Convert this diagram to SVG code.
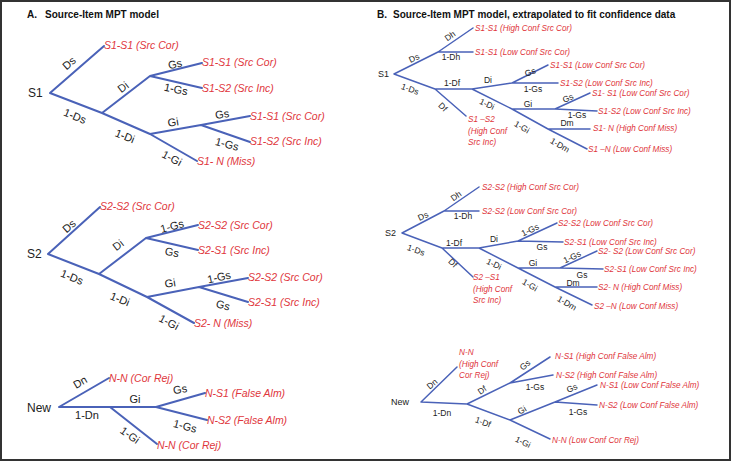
<svg xmlns="http://www.w3.org/2000/svg" width="731" height="461" viewBox="0 0 731 461">
<style>
.ln{stroke:#4a62b8;fill:none;stroke-width:2;stroke-linecap:round;stroke-linejoin:round}
.lb{stroke:#4a62b8;fill:none;stroke-width:1.5;stroke-linecap:round;stroke-linejoin:round}
text{font-family:"Liberation Sans",Arial,sans-serif;dominant-baseline:central}
.h{font-weight:bold;font-size:10px;fill:#111;dominant-baseline:auto}
.r{fill:#e0363c;font-style:italic;font-size:10.5px}
.rb{fill:#e0363c;font-style:italic;font-size:8.2px}
.k{fill:#222;font-size:11px;text-anchor:middle}
.kb{fill:#222;font-size:8.5px;text-anchor:middle}
.n{fill:#222;font-size:12px}
.nb{fill:#222;font-size:9px}
</style>
<rect x="1" y="1" width="729" height="459" fill="#fff" stroke="#333" stroke-width="2"/>
<text class="h" x="27" y="18">A.</text>
<text class="h" x="45" y="18">Source-Item MPT model</text>
<text class="h" x="377" y="18">B.</text>
<text class="h" x="393" y="18">Source-Item MPT model, extrapolated to fit confidence data</text>

<g id="connectors">
<!-- Panel A S1 -->
<path class="ln" d="M50,93 L104,46 M50,93 L102,113 L150,134 L197,161 M102,113 L150,76 M150,76 L202,63 M150,76 L202,88 M150,134 L201,125 L250,116 M201,125 L250,142"/>
<!-- Panel A S2 -->
<path class="ln" d="M48,254 L100,207 M48,254 L99,274 L147,297 L194,323 M99,274 L146,238 M146,238 L198,225 M146,238 L198,250 M147,297 L199,287 L248,278 M199,287 L248,302"/>
<!-- Panel A New -->
<path class="ln" d="M59,407 L109,378 M59,407 L156,407 M156,407 L205,393 M156,407 L207,420 M110,407 L157,444"/>
<!-- Panel B S1 -->
<path class="lb" d="M394,74 L438,52 M438,52 L473,28 M438,52 L473,52 M394,74 L435,89 L472,89 M435,89 L466,116 M472,89 L512,83 M512,83 L548,65 M512,83 L558,83 M472,89 L512,109 L548,129 L587,149 M512,109 L555,109 L597,111 M555,109 L590,93 M548,129 L590,129"/>
<!-- Panel B S2 -->
<path class="lb" d="M402,233 L444,211 M444,211 L479,187 M444,211 L479,211 M402,233 L442,248 L479,248 M442,248 L473,277 M479,248 L518,241 M518,241 L557,223 M518,241 L563,242 M479,248 L518,268 L555,287 L592,305 M518,268 L560,268 L603,269 M560,268 L597,251 M555,287 L597,287"/>
<!-- Panel B New -->
<path class="lb" d="M421,402 L457,367 M421,402 L467,404 M467,404 L510,383 M510,383 L550,357 M510,383 L553,375 M467,404 L510,420 L550,439 M510,420 L555,402 M555,402 L597,385 M555,402 L597,405"/>

<!-- Panel A S1 labels -->
<text class="k" transform="translate(69,63) rotate(-41)">Ds</text>
<text class="k" transform="translate(123,87) rotate(-38)">Di</text>
<text class="k" transform="translate(75,116) rotate(22)">1-Ds</text>
<text class="k" transform="translate(175,64) rotate(-12)">Gs</text>
<text class="k" transform="translate(176,89) rotate(12)">1-Gs</text>
<text class="k" transform="translate(173,122) rotate(-9)">Gi</text>
<text class="k" transform="translate(222,114) rotate(-9)">Gs</text>
<text class="k" transform="translate(227,144) rotate(15)">1-Gs</text>
<text class="k" transform="translate(125,136) rotate(22)">1-Di</text>
<text class="k" transform="translate(172,158) rotate(28)">1-Gi</text>
<!-- Panel A S2 labels -->
<text class="k" transform="translate(69,226) rotate(-41)">Ds</text>
<text class="k" transform="translate(118,245) rotate(-38)">Di</text>
<text class="k" transform="translate(72,277) rotate(22)">1-Ds</text>
<text class="k" transform="translate(172,226) rotate(-15)">1-Gs</text>
<text class="k" transform="translate(172,252) rotate(12)">Gs</text>
<text class="k" transform="translate(219,277) rotate(-12)">1-Gs</text>
<text class="k" transform="translate(170,283) rotate(-9)">Gi</text>
<text class="k" transform="translate(120,299) rotate(22)">1-Di</text>
<text class="k" transform="translate(223,305) rotate(15)">Gs</text>
<text class="k" transform="translate(169,322) rotate(28)">1-Gi</text>
<!-- Panel A New labels -->
<text class="k" transform="translate(80,382) rotate(-30)">Dn</text>
<text class="k" transform="translate(87,415)">1-Dn</text>
<text class="k" transform="translate(135,399)">Gi</text>
<text class="k" transform="translate(180,389) rotate(-10)">Gs</text>
<text class="k" transform="translate(185,426) rotate(15)">1-Gs</text>
<text class="k" transform="translate(130,435) rotate(35)">1-Gi</text>

<!-- Panel B S1 labels -->
<text class="kb" transform="translate(450,36) rotate(-35)">Dh</text>
<text class="kb" transform="translate(451,57)">1-Dh</text>
<text class="kb" transform="translate(414,58) rotate(-25)">Ds</text>
<text class="kb" transform="translate(410,89) rotate(20)">1-Ds</text>
<text class="kb" transform="translate(452,83)">1-Df</text>
<text class="kb" transform="translate(488,80)">Di</text>
<text class="kb" transform="translate(530,72) rotate(-20)">Gs</text>
<text class="kb" transform="translate(533,89)">1-Gs</text>
<text class="kb" transform="translate(443,107) rotate(45)">Df</text>
<text class="kb" transform="translate(487,104) rotate(25)">1-Di</text>
<text class="kb" transform="translate(528,104)">Gi</text>
<text class="kb" transform="translate(568,98) rotate(-25)">Gs</text>
<text class="kb" transform="translate(577,115)">1-Gs</text>
<text class="kb" transform="translate(567,123)">Dm</text>
<text class="kb" transform="translate(522,127) rotate(30)">1-Gi</text>
<text class="kb" transform="translate(560,145) rotate(30)">1-Dm</text>
<!-- Panel B S2 labels -->
<text class="kb" transform="translate(456,196) rotate(-35)">Dh</text>
<text class="kb" transform="translate(463,216)">1-Dh</text>
<text class="kb" transform="translate(423,216) rotate(-25)">Ds</text>
<text class="kb" transform="translate(416,250) rotate(20)">1-Ds</text>
<text class="kb" transform="translate(454,243)">1-Df</text>
<text class="kb" transform="translate(494,239)">Di</text>
<text class="kb" transform="translate(530,230) rotate(-25)">1-Gs</text>
<text class="kb" transform="translate(542,247)">Gs</text>
<text class="kb" transform="translate(453,263) rotate(45)">Df</text>
<text class="kb" transform="translate(494,264) rotate(25)">1-Di</text>
<text class="kb" transform="translate(533,263)">Gi</text>
<text class="kb" transform="translate(572,257) rotate(-25)">1-Gs</text>
<text class="kb" transform="translate(582,275)">Gs</text>
<text class="kb" transform="translate(573,283)">Dm</text>
<text class="kb" transform="translate(530,285) rotate(30)">1-Gi</text>
<text class="kb" transform="translate(567,303) rotate(30)">1-Dm</text>
<!-- Panel B New labels -->
<text class="kb" transform="translate(432,384) rotate(-40)">Dn</text>
<text class="kb" transform="translate(442,413)">1-Dn</text>
<text class="kb" transform="translate(482,390) rotate(-35)">Df</text>
<text class="kb" transform="translate(525,365) rotate(-40)">Gs</text>
<text class="kb" transform="translate(535,387)">1-Gs</text>
<text class="kb" transform="translate(483,422) rotate(20)">1-Df</text>
<text class="kb" transform="translate(522,410) rotate(-30)">Gi</text>
<text class="kb" transform="translate(572,388) rotate(-25)">Gs</text>
<text class="kb" transform="translate(578,412)">1-Gs</text>
<text class="kb" transform="translate(523,442) rotate(25)">1-Gi</text>
</g>

<!-- Panel A nodes -->
<g id="a-s1"><text class="n" x="28" y="93">S1</text></g>
<g id="a-s1-1"><text class="r" x="104" y="45">S1-S1 (Src Cor)</text></g>
<g id="a-s1-2"><text class="r" x="202" y="62">S1-S1 (Src Cor)</text></g>
<g id="a-s1-3"><text class="r" x="202" y="88">S1-S2 (Src Inc)</text></g>
<g id="a-s1-4"><text class="r" x="250" y="116">S1-S1 (Src Cor)</text></g>
<g id="a-s1-5"><text class="r" x="250" y="141">S1-S2 (Src Inc)</text></g>
<g id="a-s1-6"><text class="r" x="197" y="161">S1- N (Miss)</text></g>

<g id="a-s2"><text class="n" x="27" y="254">S2</text></g>
<g id="a-s2-1"><text class="r" x="100" y="206">S2-S2 (Src Cor)</text></g>
<g id="a-s2-2"><text class="r" x="198" y="225">S2-S2 (Src Cor)</text></g>
<g id="a-s2-3"><text class="r" x="198" y="250">S2-S1 (Src Inc)</text></g>
<g id="a-s2-4"><text class="r" x="248" y="277">S2-S2 (Src Cor)</text></g>
<g id="a-s2-5"><text class="r" x="248" y="302">S2-S1 (Src Inc)</text></g>
<g id="a-s2-6"><text class="r" x="194" y="323">S2- N (Miss)</text></g>

<g id="a-new"><text class="n" x="27" y="408">New</text></g>
<g id="a-new-1"><text class="r" x="109" y="378">N-N (Cor Rej)</text></g>
<g id="a-new-2"><text class="r" x="205" y="393">N-S1 (False Alm)</text></g>
<g id="a-new-3"><text class="r" x="207" y="420">N-S2 (False Alm)</text></g>
<g id="a-new-4"><text class="r" x="157" y="445">N-N (Cor Rej)</text></g>

<!-- Panel B nodes -->
<g id="b-s1"><text class="nb" x="378" y="74">S1</text></g>
<g id="b-s1-1"><text class="rb" x="475" y="28">S1-S1 (High Conf Src Cor)</text></g>
<g id="b-s1-2"><text class="rb" x="475" y="52">S1-S1 (Low Conf Src Cor)</text></g>
<g id="b-s1-3"><text class="rb" x="550" y="65">S1-S1 (Low Conf Src Cor)</text></g>
<g id="b-s1-4"><text class="rb" x="560" y="83">S1-S2 (Low Conf Src Inc)</text></g>
<g id="b-s1-5"><text class="rb" x="592" y="93">S1- S1 (Low Conf Src Cor)</text></g>
<g id="b-s1-6"><text class="rb" x="598" y="111">S1-S2 (Low Conf Src Inc)</text></g>
<g id="b-s1-7"><text class="rb" x="593" y="128">S1- N (High Conf Miss)</text></g>
<g id="b-s1-8"><text class="rb" x="588" y="149">S1 –N (Low Conf Miss)</text></g>
<g id="b-s1-9"><text class="rb" x="468" y="119">S1 –S2</text><text class="rb" x="468" y="131">(High Conf</text><text class="rb" x="468" y="142">Src Inc)</text></g>

<g id="b-s2"><text class="nb" x="385" y="233">S2</text></g>
<g id="b-s2-1"><text class="rb" x="482" y="187">S2-S2 (High Conf Src Cor)</text></g>
<g id="b-s2-2"><text class="rb" x="482" y="211">S2-S2 (Low Conf Src Cor)</text></g>
<g id="b-s2-3"><text class="rb" x="558" y="223">S2-S2 (Low Conf Src Cor)</text></g>
<g id="b-s2-4"><text class="rb" x="564" y="242">S2-S1 (Low Conf Src Inc)</text></g>
<g id="b-s2-5"><text class="rb" x="598" y="251">S2- S2 (Low Conf Src Cor)</text></g>
<g id="b-s2-6"><text class="rb" x="604" y="269">S2-S1 (Low Conf Src Inc)</text></g>
<g id="b-s2-7"><text class="rb" x="598" y="287">S2- N (High Conf Miss)</text></g>
<g id="b-s2-8"><text class="rb" x="594" y="306">S2 –N (Low Conf Miss)</text></g>
<g id="b-s2-9"><text class="rb" x="473" y="277">S2 –S1</text><text class="rb" x="473" y="289">(High Conf</text><text class="rb" x="473" y="300">Src Inc)</text></g>

<g id="b-new"><text class="nb" x="391" y="402">New</text></g>
<g id="b-new-1"><text class="rb" x="459" y="352">N-N</text><text class="rb" x="459" y="364">(High Conf</text><text class="rb" x="459" y="375">Cor Rej)</text></g>
<g id="b-new-2"><text class="rb" x="555" y="356">N-S1 (High Conf False Alm)</text></g>
<g id="b-new-3"><text class="rb" x="556" y="375">N-S2 (High Conf False Alm)</text></g>
<g id="b-new-4"><text class="rb" x="600" y="385">N-S1 (Low Conf False Alm)</text></g>
<g id="b-new-5"><text class="rb" x="599" y="405">N-S2 (Low Conf False Alm)</text></g>
<g id="b-new-6"><text class="rb" x="552" y="440">N-N (Low Conf Cor Rej)</text></g>
</svg>
